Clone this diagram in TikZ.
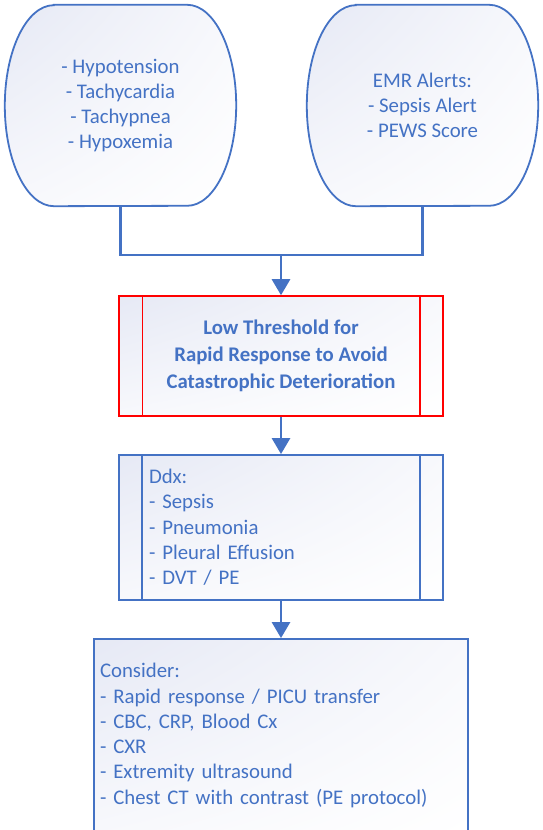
\documentclass[tikz,border=0pt]{standalone}
\usepackage{fontspec}
\setmainfont{Carlito}
\usetikzlibrary{arrows.meta,shadings,backgrounds}
\definecolor{flowblue}{HTML}{4472C4}
\definecolor{shadeblue}{HTML}{E6E9F5}
\definecolor{alertred}{HTML}{FF0000}
\begin{document}
\begin{tikzpicture}
	  [
	    x                       = 1pt,
	    y                       = 1pt,
	    every node/.style       = {font=\fontsize{20.8}{25.3}\selectfont, text=flowblue},
	    link/.style             = {draw=flowblue, line width=2.8pt},
	    flow/.style             = {link, -{Triangle[width=18pt,length=16pt]}},
	    boxfill/.style          = {
			upper left=shadeblue,
			lower right=white,
			upper right=white!70!shadeblue,
			lower left=white!70!shadeblue
		},
	    sign/.style             = {
			minimum width=231pt,
			minimum height=201pt,
			inner sep=0pt,
			align=center
		},
	    signline/.style         = {boxfill, draw=flowblue, line width=1.8pt},
	    process/.style          = {
			boxfill,
			draw=flowblue,
			line width=1.8pt,
			minimum width=324pt,
			inner sep=0pt
		},
	    alert/.style            = {
			process,
			draw=alertred,
			line width=1.5pt,
			minimum height=120pt,
			align=center,
			font=\fontsize{20.8}{26.8}\selectfont\bfseries
		}
	  ]
		\useasboundingbox (0,0) rectangle (542,830);

		% findings and alerts
		\node[sign] (sym) at (120.5,724.5) {- Hypotension\\- Tachycardia\\- Tachypnea\\- Hypoxemia};
		\node[sign] (emr) at (422.5,724.5) {EMR Alerts:\\- Sepsis Alert\\- PEWS Score};
		\begin{scope}[on background layer]
			\foreach \n in {sym, emr}
				\draw[signline] ([xshift=49pt]\n.north west) -- ([xshift=-49pt]\n.north east)
					arc[start angle=90, end angle=-90, x radius=49pt, y radius=100.5pt]
					-- ([xshift=49pt]\n.south west)
					arc[start angle=270, end angle=90, x radius=49pt, y radius=100.5pt]
					-- cycle;
		\end{scope}
		\coordinate (merge) at (281,575);

		% steps
		\node[alert] (rrt) at (281,474) {Low Threshold for\\Rapid Response to Avoid\\Catastrophic Deterioration};
		\node[process, minimum height=145pt, text width=264pt, inner xsep=30pt, align=left] (ddx) at (281,302.5)
			{Ddx:\\- Sepsis\\- Pneumonia\\- Pleural Effusion\\- DVT / PE};
		\node[process, minimum width=374pt, minimum height=193pt, text width=362pt, inner xsep=6pt, align=left] (cons) at (281,94.5)
			{Consider:\\- Rapid response / PICU transfer\\- CBC, CRP, Blood Cx\\- CXR\\- Extremity ultrasound\\- Chest CT with contrast (PE protocol)};

		% side bars
		\foreach \n/\c/\w in {rrt/alertred/1.5pt, ddx/flowblue/1.8pt}
		{
			\draw[draw=\c, line width=\w] ([xshift=24pt]\n.north west) -- ([xshift=24pt]\n.south west);
			\draw[draw=\c, line width=\w] ([xshift=-24pt]\n.north east) -- ([xshift=-24pt]\n.south east);
		}

		% connectors
		\draw[link] (sym.south) |- (merge);
		\draw[link] (emr.south) |- (merge);
		\draw[flow] (merge) -- (rrt);
		\draw[flow] (rrt) -- (ddx);
		\draw[flow] (ddx) -- (cons);
	\end{tikzpicture}
\end{document}
